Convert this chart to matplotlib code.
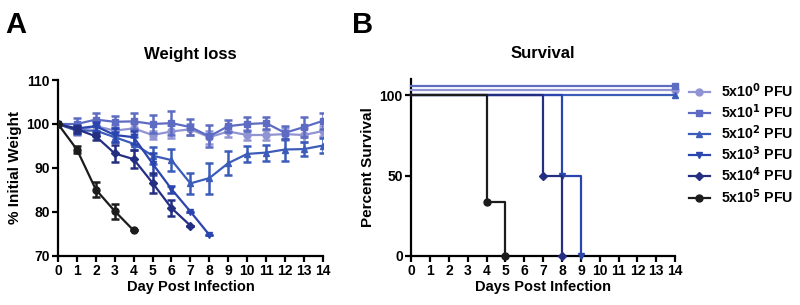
import matplotlib
matplotlib.use("Agg")
import matplotlib.pyplot as plt

plt.rcParams['font.family'] = ['Liberation Sans', 'DejaVu Sans']
plt.rcParams['font.weight'] = 'bold'

# ---- data ----
days = list(range(15))
groups = ["5x10$^0$ PFU", "5x10$^1$ PFU", "5x10$^2$ PFU",
          "5x10$^3$ PFU", "5x10$^4$ PFU", "5x10$^5$ PFU"]
colors = ["#9194d2", "#5d6cc2", "#3b5cb9", "#2b45ae", "#252f82", "#1c1c1c"]
markers = ["o", "s", "^", "v", "D", "o"]

w0 = [100, 98.5, 99.5, 98.5, 99.0, 97.5, 98.3, 98.8, 97.0, 98.3, 97.5, 97.5, 97.7, 97.5, 98.4]
e0 = [0, 1.0, 1.2, 1.2, 1.3, 1.0, 1.5, 1.3, 1.5, 1.3, 1.2, 1.2, 1.3, 1.5, 1.2]
w1 = [100, 100.0, 101.0, 100.5, 100.6, 100.0, 100.2, 99.3, 97.2, 99.5, 100.0, 100.2, 98.0, 99.3, 100.7]
e1 = [0, 1.3, 1.5, 1.3, 1.8, 2.0, 2.8, 1.8, 2.5, 1.3, 1.5, 1.3, 1.5, 2.2, 1.8]
w2 = [100, 98.5, 98.5, 97.0, 95.5, 92.8, 91.8, 86.5, 87.7, 91.1, 93.2, 93.5, 94.2, 94.3, 95.1]
e2 = [0, 0.8, 1.0, 1.2, 1.5, 2.0, 2.5, 2.3, 3.5, 2.8, 1.8, 1.8, 2.5, 1.6, 1.7]
w3 = [100, 99.0, 99.5, 97.5, 97.0, 91.0, 85.2, 80.1, 74.8]
e3 = [0, 0.8, 1.0, 1.5, 1.5, 2.5, 0.8, 0, 0]
w4 = [100, 98.8, 97.2, 93.3, 92.0, 86.6, 80.9, 76.9]
e4 = [0, 0.8, 0.8, 2.0, 2.0, 2.3, 1.8, 0]
w5 = [100, 94.2, 85.1, 80.2, 75.8]
e5 = [0, 0.7, 1.8, 1.7, 0]
weights = [w0, w1, w2, w3, w4, w5]
errors = [e0, e1, e2, e3, e4, e5]

# survival: event times and percent surviving after each event
surv_t = [[0, 14], [0, 14], [0, 14], [0, 8, 9], [0, 7, 8], [0, 4, 5]]
surv_p = [[100, 100], [100, 100], [100, 100], [100, 50, 0], [100, 50, 0], [100, 33.3, 0]]
offsets = [3, 6, 0, 0, 0, 0]  # Prism-style vertical offset of overlapping curves

fig = plt.figure(figsize=(8, 3.05), dpi=100)
ax1 = fig.add_axes([0.0725, 0.1607, 0.331, 0.577])
ax2 = fig.add_axes([0.514, 0.1607, 0.330, 0.580])


def style(ax):
    for s in ['top', 'right']:
        ax.spines[s].set_visible(False)
    for s in ['left', 'bottom']:
        ax.spines[s].set_linewidth(1.6)
    ax.tick_params(width=1.6, length=4, labelsize=10, pad=2)
    for lab in ax.get_xticklabels() + ax.get_yticklabels():
        lab.set_fontweight('bold')


# ---- weight loss ----
for i in [1, 0, 2, 3, 4, 5]:
    d = days[:len(weights[i])]
    ax1.errorbar(d, weights[i], yerr=errors[i], color=colors[i], marker=markers[i],
                 ms=5 if markers[i] != "D" else 3.8, lw=1.6, elinewidth=1.8,
                 capsize=3, capthick=1.8, zorder=3 + i)
ax1.set_xlim(0, 14)
ax1.set_ylim(70, 110)
ax1.set_xticks(days)
ax1.set_yticks([70, 80, 90, 100, 110])
ax1.set_title("Weight loss", fontsize=12, fontweight='bold', pad=15)
ax1.set_xlabel("Day Post Infection", fontsize=10.5, fontweight='bold', labelpad=1)
ax1.set_ylabel("% Initial Weight", fontsize=11, fontweight='bold', labelpad=3)
style(ax1)

# ---- survival ----
handles = []
for i in range(6):
    t = surv_t[i]
    p = [v + offsets[i] for v in surv_p[i]]
    ax2.step(t, p, where='post', color=colors[i], lw=1.6, zorder=3 + i, clip_on=False)
    ax2.plot(t[1:], p[1:], linestyle='none', marker=markers[i], color=colors[i],
             ms=5 if markers[i] != "D" else 3.8, zorder=4 + i, clip_on=False)
    h, = ax2.plot([], [], color=colors[i], marker=markers[i], lw=1.6,
                  ms=5 if markers[i] != "D" else 3.8, label=groups[i])
    handles.append(h)
ax2.set_xlim(0, 14)
ax2.set_ylim(0, 110)
ax2.set_xticks(days)
ax2.set_yticks([0, 50, 100])
ax2.set_title("Survival", fontsize=12, fontweight='bold', pad=15)
ax2.set_xlabel("Days Post Infection", fontsize=10.5, fontweight='bold', labelpad=1)
ax2.set_ylabel("Percent Survival", fontsize=11, fontweight='bold', labelpad=3)
style(ax2)

leg = ax2.legend(handles=handles, loc='upper left', bbox_to_anchor=(1.03, 1.02),
                 frameon=False, fontsize=10.2, handlelength=1.5, labelspacing=0.18,
                 handletextpad=0.8, borderaxespad=0)
for txt in leg.get_texts():
    txt.set_fontweight('bold')

fig.text(0.006, 0.892, "A", fontsize=21, fontweight='bold', ha='left', va='baseline')
fig.text(0.44, 0.892, "B", fontsize=21, fontweight='bold', ha='left', va='baseline')

fig.savefig("out.png", dpi=100)
